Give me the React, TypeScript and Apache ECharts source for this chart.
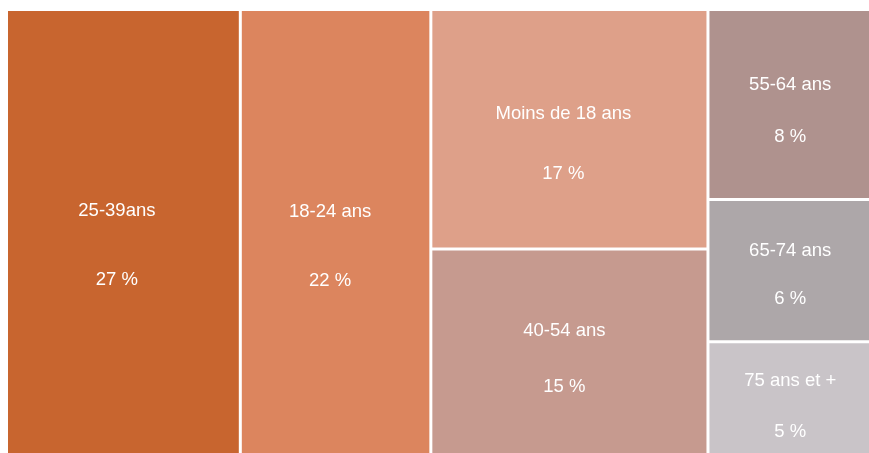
import React, { useEffect, useRef } from "react";
import * as echarts from "echarts";

// Data
const categories = [
  "25-39ans",
  "18-24 ans",
  "Moins de 18 ans",
  "40-54 ans",
  "55-64 ans",
  "65-74 ans",
  "75 ans et +",
];
const shares = [27, 22, 17, 15, 8, 6, 5];

// Grouping used for the tiling (left block / right block, columns)
const leftBlock = [0, 1];
const rightColumns = [
  [2, 3],
  [4, 5, 6],
];

// Styles
const palette = [
  "#C8652F",
  "#DC855E",
  "#DEA089",
  "#C69A8F",
  "#AF928E",
  "#ADA7A9",
  "#C9C4C8",
];
const labelSpacing = [69, 69, 60, 56, 52, 48, 51];
const labelShiftX = [-6.5, -5.5, -6, -5, 0, 0, 0];
const labelShiftY = [9, 9.5, 13, 2.5, 5, 3, 3.5];
const FONT = "'Liberation Sans', Arial, sans-serif";

function leaf(i: number) {
  return {
    name: categories[i],
    value: shares[i],
    itemStyle: { color: palette[i] },
    label: {
      lineHeight: labelSpacing[i],
      offset: [labelShiftX[i], labelShiftY[i]],
    },
  };
}

function group(name: string, children: any[]) {
  return {
    name,
    value: children.reduce((s, c) => s + c.value, 0),
    children,
  };
}

export default function App() {
  const ref = useRef<HTMLDivElement>(null);
  useEffect(() => {
    if (!ref.current) return;
    const chart = echarts.init(ref.current, null, { renderer: "svg" });
    const data = [
      group("left", leftBlock.map(leaf)),
      group(
        "right",
        rightColumns.map((col, k) => group("col" + k, col.map(leaf)))
      ),
    ];
    chart.setOption({
      animation: false,
      series: [
        {
          type: "treemap",
          left: 0,
          top: 3,
          width: 863,
          height: 448,
          roam: false,
          nodeClick: false,
          sort: false,
          squareRatio: 0.5 * (1 + Math.sqrt(5)),
          breadcrumb: { show: false },
          itemStyle: { borderWidth: 0, gapWidth: 3, borderColor: "#ffffff" },
          upperLabel: { show: false },
          emphasis: { disabled: true },
          label: {
            show: true,
            position: "inside",
            align: "center",
            verticalAlign: "middle",
            color: "#ffffff",
            fontSize: 18.5,
            fontFamily: FONT,
            formatter: (p: any) => `${p.name}\n${p.value} %`,
          },
          data,
        },
      ],
    });
    return () => chart.dispose();
  }, []);
  return (
    <div
      ref={ref}
      style={{ position: "fixed", left: 8, top: 8, width: 863, height: 451 }}
    />
  );
}
